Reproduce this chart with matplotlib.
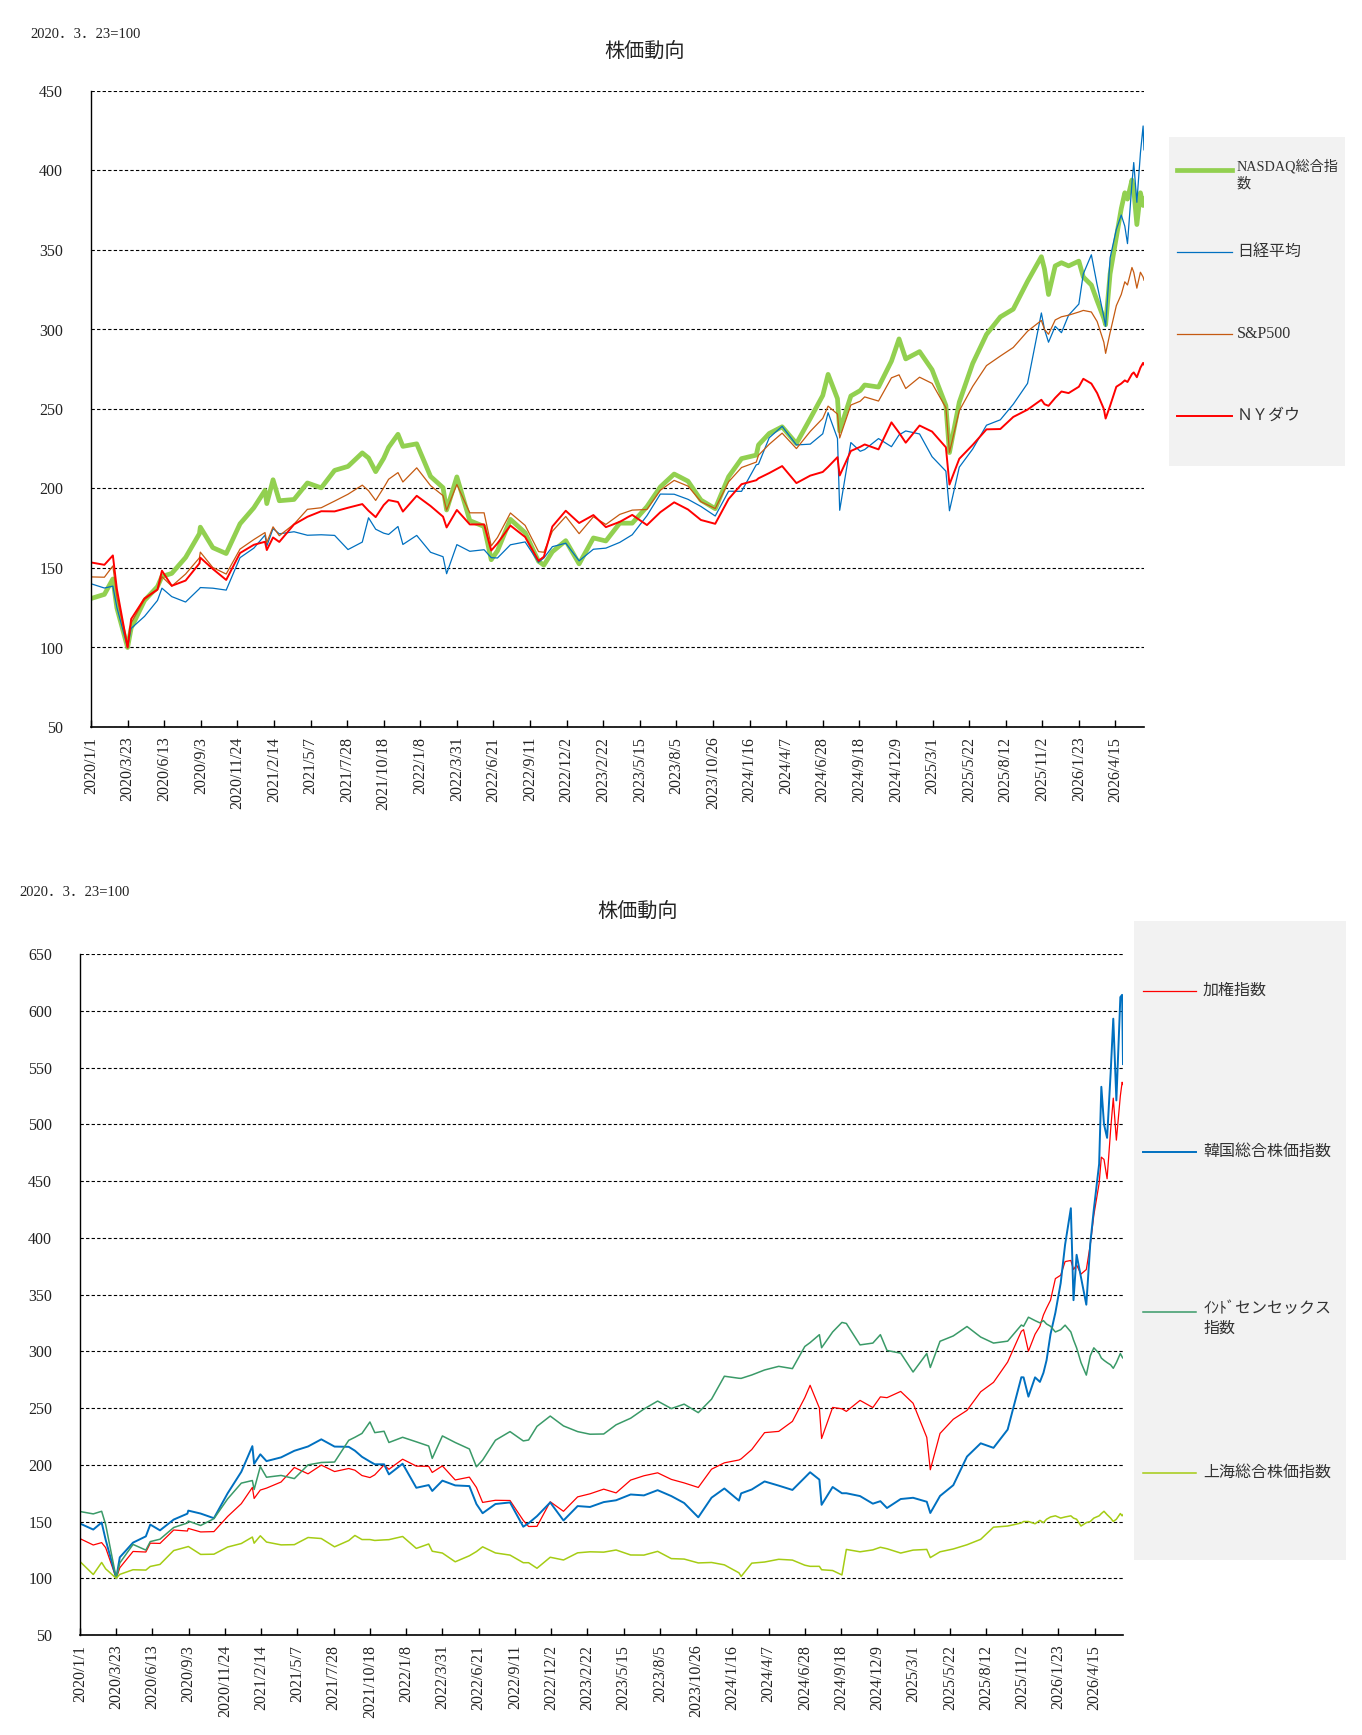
import matplotlib
matplotlib.use("Agg")
import matplotlib.pyplot as plt
import pandas as pd
from matplotlib.lines import Line2D
from matplotlib.patches import Rectangle

plt.rcParams['font.family'] = ['Liberation Serif', 'Noto Sans CJK JP']

W, H = 1362, 1735

# --- data (index, 2020/3/23 = 100) ---
early_dates = [
    '2020-01-01', '2020-01-31', '2020-02-19', '2020-02-28', '2020-03-23', '2020-03-31', '2020-04-30',
    '2020-05-29', '2020-06-08', '2020-06-30', '2020-07-31', '2020-08-31', '2020-09-02', '2020-09-30',
    '2020-10-30', '2020-11-30', '2020-12-31',
    '2021-01-25', '2021-01-29', '2021-02-12', '2021-02-26', '2021-03-31', '2021-04-30', '2021-05-31',
    '2021-06-30', '2021-07-30', '2021-08-31', '2021-09-14', '2021-09-30', '2021-10-18', '2021-10-29',
    '2021-11-19', '2021-11-30', '2021-12-31',
    '2022-01-31', '2022-02-28', '2022-03-08', '2022-03-31', '2022-04-29', '2022-05-31', '2022-06-16',
    '2022-06-30', '2022-07-29', '2022-08-31', '2022-09-30', '2022-10-12', '2022-10-31', '2022-11-30',
    '2022-12-30',
    '2023-01-31', '2023-02-28', '2023-03-31', '2023-04-28', '2023-05-31', '2023-06-30', '2023-07-31',
    '2023-08-31', '2023-09-29', '2023-10-31', '2023-11-30', '2023-12-29',
    '2024-01-31', '2024-02-05', '2024-02-29', '2024-03-29', '2024-04-30', '2024-05-31', '2024-06-28',
    '2024-07-10', '2024-07-31', '2024-08-05', '2024-08-30', '2024-09-20', '2024-09-30', '2024-10-31',
    '2024-11-29', '2024-12-16', '2024-12-31',
    '2025-01-31', '2025-02-28', '2025-03-31', '2025-04-08', '2025-04-30', '2025-05-30', '2025-06-30',
    '2025-07-31', '2025-08-29', '2025-09-30', '2025-10-31',
]

top_late_dates = [
    '2025-11-07', '2025-11-16', '2025-12-01', '2025-12-15', '2025-12-31', '2026-01-23', '2026-02-02',
    '2026-02-20', '2026-03-05', '2026-03-20', '2026-03-24', '2026-04-03', '2026-04-17', '2026-04-28',
    '2026-05-06', '2026-05-12', '2026-05-22', '2026-05-26', '2026-06-02', '2026-06-10', '2026-06-16',
    '2026-06-18',
]

bottom_late_dates = [
    '2025-11-05', '2025-11-16', '2025-12-01', '2025-12-12', '2025-12-20', '2025-12-27', '2026-01-05',
    '2026-01-16', '2026-01-28', '2026-02-07', '2026-02-20', '2026-02-26', '2026-03-05', '2026-03-15',
    '2026-03-27', '2026-04-05', '2026-04-13', '2026-04-25', '2026-04-30', '2026-05-06', '2026-05-13',
    '2026-05-21', '2026-05-27', '2026-06-03', '2026-06-12', '2026-06-16', '2026-06-18',
]

nasdaq = [130.8, 133.4, 143.1, 124.9, 100.0, 112.2, 129.6, 138.3, 144.7, 146.6, 156.6, 171.6, 175.7, 162.8, 159.1, 177.8, 187.9,
          198.8, 190.5, 205.5, 192.3, 193.1, 203.5, 200.4, 211.4, 213.9, 222.4, 219.2, 210.6, 219.0, 225.9, 234.1, 226.5, 228.1,
          207.6, 200.5, 186.5, 207.3, 179.8, 176.1, 155.2, 160.8, 180.6, 172.2, 154.2, 151.8, 160.2, 167.2, 152.6,
          168.9, 167.0, 178.2, 178.2, 188.6, 201.0, 209.1, 204.6, 192.7, 187.3, 207.4, 218.8,
          221.0, 227.4, 234.6, 238.8, 228.3, 244.0, 258.5, 271.8, 256.5, 236.2, 258.2, 261.6, 265.1, 263.8, 280.1, 294.1, 281.5,
          286.1, 274.7, 252.2, 222.6, 254.3, 278.6, 296.9, 307.9, 312.8, 330.3, 345.8,
          338, 322, 340, 342, 340, 343, 333, 328, 318, 307, 303, 335, 358, 376, 386, 382, 394, 388, 366,
          386, 378, 382]

nikkei = [140.1, 137.4, 138.6, 125.2, 100.0, 112.0, 119.6, 129.6, 137.3, 132.0, 128.6, 137.0, 137.7, 137.3, 136.1, 156.5, 162.5,
          170.7, 163.8, 174.8, 171.5, 172.8, 170.6, 170.9, 170.5, 161.6, 166.3, 181.6, 174.4, 171.9, 171.1, 176.1, 164.8, 170.5,
          159.9, 157.1, 146.4, 164.7, 160.5, 161.5, 156.5, 156.3, 164.6, 166.4, 153.6, 156.3, 163.4, 165.6, 154.5,
          161.8, 162.5, 166.1, 170.9, 182.9, 196.5, 196.4, 193.2, 188.7, 182.7, 198.3, 198.2,
          214.9, 215.3, 231.9, 239.1, 227.4, 227.9, 234.4, 247.7, 231.5, 186.3, 228.9, 223.4, 224.5, 231.4, 226.3, 233.7, 236.2,
          234.3, 220.0, 210.9, 186.0, 213.4, 224.8, 239.8, 243.2, 253.0, 266.1, 310.4,
          300, 292, 302, 298, 309, 316, 335, 347, 328, 308, 302, 345, 363, 372, 365, 354, 392, 405, 380,
          411, 428, 413]

sp500 = [144.4, 144.2, 151.3, 132.0, 100.0, 115.5, 130.2, 136.1, 144.5, 138.6, 146.2, 156.4, 160.0, 150.3, 146.2, 161.9, 167.9,
         172.3, 166.0, 175.9, 170.3, 177.6, 186.9, 187.9, 192.1, 196.4, 202.1, 198.6, 192.5, 200.5, 205.8, 210.0, 204.1, 213.0,
         201.8, 195.5, 186.4, 202.5, 184.7, 184.7, 163.9, 169.2, 184.6, 176.8, 160.3, 159.9, 173.1, 182.4, 171.6,
         182.2, 177.4, 183.7, 186.4, 186.8, 198.9, 205.1, 201.5, 191.7, 187.4, 204.2, 213.2,
         216.6, 220.9, 227.8, 234.8, 225.1, 235.9, 244.1, 251.8, 246.8, 231.8, 252.5, 254.9, 257.6, 255.0, 269.6, 271.5, 262.9,
         270.0, 266.1, 250.8, 222.7, 248.9, 264.2, 277.3, 283.3, 288.7, 298.9, 305.7,
         300, 297, 306, 308, 309, 311, 312, 311, 305, 292, 285, 298, 315, 322, 330, 328, 339, 336, 326,
         336, 333, 331]

nydow = [153.5, 152.0, 157.9, 136.7, 100.0, 117.9, 130.9, 136.5, 148.3, 138.8, 142.1, 152.9, 156.5, 149.4, 142.5, 159.4, 164.6,
         166.5, 161.3, 169.2, 166.4, 177.4, 182.2, 185.7, 185.6, 187.9, 190.2, 186.0, 182.0, 189.6, 192.7, 191.5, 185.5, 195.4,
         189.0, 182.3, 175.5, 186.5, 177.4, 177.4, 161.0, 165.5, 176.7, 169.5, 154.5, 157.1, 176.1, 186.0, 178.3,
         183.3, 175.7, 179.0, 183.4, 177.0, 185.1, 191.3, 186.8, 180.2, 177.8, 193.4, 202.7,
         205.2, 206.4, 209.7, 214.1, 203.4, 208.1, 210.4, 213.6, 219.7, 208.2, 223.6, 226.2, 227.7, 224.6, 241.6, 235.1, 228.8,
         239.6, 235.8, 225.9, 202.5, 218.7, 227.4, 237.2, 237.4, 245.0, 249.6, 255.8,
         253, 252, 257, 261, 260, 264, 269, 266, 260, 250, 244, 252, 264, 266, 268, 267, 272, 273, 270,
         276, 279, 278]

taiex = [134.9, 129.3, 131.4, 127.0, 100.0, 109.2, 123.6, 123.1, 130.9, 130.7, 142.5, 141.6, 143.9, 140.8, 141.1, 154.4, 165.7,
         180.0, 170.3, 177.7, 179.4, 184.8, 197.6, 192.0, 199.7, 194.0, 196.7, 195.2, 190.5, 188.7, 191.1, 199.8, 196.0, 204.9,
         198.8, 198.6, 193.2, 199.0, 186.6, 189.1, 180.0, 166.8, 168.7, 168.5, 151.0, 145.6, 145.7, 167.4, 159.0,
         171.7, 174.4, 178.5, 175.2, 186.5, 190.3, 192.9, 187.1, 184.0, 180.0, 196.1, 201.7,
         204.2, 205.2, 213.4, 228.3, 229.4, 238.2, 259.1, 270.0, 250.0, 223.1, 250.5, 249.3, 247.0, 256.7, 250.4, 259.8, 259.1,
         264.6, 254.2, 224.1, 195.6, 227.6, 240.1, 247.9, 264.3, 272.6, 290.5, 317.6,
         319, 300, 315, 322, 332, 338, 345, 364, 367, 379, 380, 372, 376, 368, 372, 394, 420, 448, 471,
         469, 452, 495, 523, 486, 525, 537, 535]

kospi = [148.2, 142.9, 149.1, 134.0, 100.0, 118.4, 131.4, 136.9, 147.3, 142.2, 151.7, 156.9, 159.6, 157.0, 152.9, 174.8, 193.8,
         216.4, 200.8, 209.2, 203.2, 206.5, 212.3, 216.1, 222.4, 216.0, 215.8, 212.4, 207.0, 202.8, 200.4, 200.4, 191.5, 200.9,
         179.7, 182.1, 176.9, 186.0, 181.8, 181.2, 165.4, 157.3, 165.4, 166.8, 145.4, 148.5, 154.7, 166.8, 150.9,
         163.6, 162.8, 167.1, 168.7, 173.8, 173.0, 177.6, 172.4, 166.3, 153.7, 171.0, 179.1,
         168.4, 174.8, 178.2, 185.3, 181.6, 177.8, 188.7, 193.4, 186.9, 164.7, 180.4, 174.9, 174.9, 172.4, 165.7, 167.9, 161.9,
         169.8, 170.9, 167.4, 157.5, 172.5, 182.0, 207.2, 218.9, 214.9, 231.0, 277.1,
         277, 260, 277, 273, 281, 292, 315, 334, 360, 394, 426, 345, 385, 365, 341, 395, 425, 465, 533,
         500, 488, 545, 593, 521, 612, 614, 553]

sensex = [158.8, 156.7, 159.0, 147.4, 100.0, 113.4, 129.8, 124.8, 132.3, 134.4, 144.7, 148.7, 150.4, 146.5, 152.5, 169.9, 183.8,
          186.1, 178.2, 198.4, 189.0, 190.6, 187.8, 199.9, 202.0, 202.4, 221.5, 224.2, 227.6, 237.7, 228.3, 229.5, 219.6, 224.2,
          220.2, 216.5, 205.6, 225.4, 219.6, 213.9, 198.2, 204.1, 221.6, 229.2, 221.0, 221.8, 233.8, 242.9, 234.2,
          229.2, 226.9, 227.1, 235.2, 241.0, 249.1, 256.1, 249.5, 253.4, 245.9, 257.8, 278.0,
          276.2, 276.1, 279.1, 283.5, 286.7, 284.7, 304.2, 307.6, 314.6, 303.1, 317.0, 325.4, 324.5, 305.6, 307.2, 314.6, 300.7,
          298.3, 281.7, 298.0, 285.7, 308.8, 313.5, 321.8, 312.5, 307.2, 308.9, 323.1,
          322, 330, 327, 325, 327, 324, 322, 317, 319, 323, 317, 310, 303, 290, 279, 296, 303, 298, 294,
          292, 290, 288, 285, 290, 298, 295, 294]

shanghai = [114.7, 103.3, 113.9, 108.3, 100.0, 103.4, 107.5, 107.2, 110.4, 112.2, 124.4, 127.7, 128.0, 121.0, 121.2, 127.5, 130.6,
            136.3, 130.9, 137.4, 131.9, 129.4, 129.6, 135.9, 135.0, 127.7, 133.2, 137.7, 134.1, 134.1, 133.3, 133.8, 134.0, 136.8,
            126.3, 130.2, 123.8, 122.2, 114.5, 119.8, 123.5, 127.7, 122.3, 120.4, 113.7, 113.7, 108.8, 118.5, 116.1,
            122.4, 123.3, 123.0, 124.9, 120.5, 120.4, 123.7, 117.3, 116.9, 113.5, 113.9, 111.8,
            104.8, 101.6, 113.3, 114.3, 116.7, 116.0, 111.5, 110.5, 110.5, 107.5, 106.8, 102.9, 125.4, 123.3, 125.0, 127.3, 126.0,
            122.2, 124.8, 125.4, 118.2, 123.3, 125.8, 129.5, 134.3, 145.0, 146.0, 148.7,
            150, 150, 148, 151, 149, 152, 154, 155, 153, 154, 155, 153, 152, 146, 149, 150, 153, 155, 157,
            159, 156, 153, 150, 152, 157, 155, 156]

tick_labels = ['2020/1/1', '2020/3/23', '2020/6/13', '2020/9/3', '2020/11/24', '2021/2/14', '2021/5/7',
               '2021/7/28', '2021/10/18', '2022/1/8', '2022/3/31', '2022/6/21', '2022/9/11', '2022/12/2',
               '2023/2/22', '2023/5/15', '2023/8/5', '2023/10/26', '2024/1/16', '2024/4/7', '2024/6/28',
               '2024/9/18', '2024/12/9', '2025/3/1', '2025/5/22', '2025/8/12', '2025/11/2', '2026/1/23',
               '2026/4/15']

top_labels = ['NASDAQ総合指\n数', '日経平均', 'S&P500', 'ＮＹダウ']
bottom_labels = ['加権指数', '韓国総合株価指数', 'ｲﾝﾄﾞセンセックス\n指数', '上海総合株価指数']

top_dates = pd.to_datetime(early_dates + top_late_dates)
bottom_dates = pd.to_datetime(early_dates + bottom_late_dates)
tick_dates = pd.to_datetime(tick_labels, format='%Y/%m/%d')

fig = plt.figure(figsize=(W / 100, H / 100), dpi=100)


def rect(l, t, r, b):
    return [l / W, 1 - b / H, (r - l) / W, (b - t) / H]


def setup(ax, ymax):
    ax.set_xlim(pd.Timestamp('2020-01-01'), pd.Timestamp('2026-06-18'))
    ax.set_ylim(50, ymax)
    ax.set_yticks(range(50, ymax + 1, 50))
    ax.set_xticks(tick_dates)
    ax.set_xticklabels(tick_labels)
    ax.grid(axis='y', color='black', linestyle=(0, (3, 2)), linewidth=0.8)
    ax.set_axisbelow(True)
    for s in ['top', 'right']:
        ax.spines[s].set_visible(False)
    ax.spines['left'].set_linewidth(1.0)
    ax.spines['bottom'].set_linewidth(1.2)
    ax.tick_params(axis='y', length=0, pad=20, labelsize=11.5, labelcolor='#222222')
    ax.tick_params(axis='x', direction='in', length=5, width=1, pad=7, labelsize=11.5,
                   labelrotation=90, labelcolor='#222222')


def legend(box, x0, x1, xt, entries):
    l, t, r, b = box
    fig.patches.append(Rectangle((l / W, 1 - b / H), (r - l) / W, (b - t) / H,
                                 transform=fig.transFigure, facecolor='#f2f2f2',
                                 edgecolor='none', zorder=0))
    for label, line, y, fs in entries:
        fig.lines.append(Line2D([x0 / W, x1 / W], [1 - y / H, 1 - y / H], transform=fig.transFigure,
                                color=line.get_color(), linewidth=line.get_linewidth()))
        if '\n' in label:
            fig.text(xt / W, 1 - (y - 11) / H, label, ha='left', va='top', fontsize=fs,
                     color='#333333', linespacing=1.3)
        else:
            fig.text(xt / W, 1 - y / H, label, ha='left', va='center', fontsize=fs, color='#333333')


# --- top chart ---
ax1 = fig.add_axes(rect(91, 91, 1144, 727))
l1 = ax1.plot(top_dates, nasdaq, color='#92d050', lw=3.4)[0]
l2 = ax1.plot(top_dates, nikkei, color='#0070c0', lw=0.9)[0]
l3 = ax1.plot(top_dates, sp500, color='#c55a11', lw=0.9)[0]
l4 = ax1.plot(top_dates, nydow, color='#ff0000', lw=1.4)[0]
setup(ax1, 450)
fig.text(645 / W, 1 - 53 / H, '株価動向', ha='center', va='center', fontsize=14.5, color='#222222')
fig.text(30 / W, 1 - 34 / H, '2020．3．23=100', ha='left', va='center', fontsize=10.5, color='#222222')
legend((1169, 137, 1345, 466), 1177, 1232, 1237,
       [(top_labels[0], l1, 170, 10.2), (top_labels[1], l2, 252, 11.5),
        (top_labels[2], l3, 334, 11.5), (top_labels[3], l4, 416, 11.5)])

# --- bottom chart ---
ax2 = fig.add_axes(rect(80, 954, 1123, 1635))
m1 = ax2.plot(bottom_dates, taiex, color='#ff0000', lw=0.9)[0]
m2 = ax2.plot(bottom_dates, kospi, color='#0070c0', lw=1.4)[0]
m3 = ax2.plot(bottom_dates, sensex, color='#3a9a68', lw=1.1)[0]
m4 = ax2.plot(bottom_dates, shanghai, color='#a5cc14', lw=1.1)[0]
setup(ax2, 650)
fig.text(638 / W, 1 - 913 / H, '株価動向', ha='center', va='center', fontsize=14.5, color='#222222')
fig.text(19 / W, 1 - 892 / H, '2020．3．23=100', ha='left', va='center', fontsize=10.5, color='#222222')
legend((1134, 921, 1346, 1560), 1143, 1196, 1203,
       [(bottom_labels[0], m1, 991, 11.5), (bottom_labels[1], m2, 1152, 11.5),
        (bottom_labels[2], m3, 1312, 11.5), (bottom_labels[3], m4, 1473, 11.5)])

fig.savefig('out.png', dpi=100)
